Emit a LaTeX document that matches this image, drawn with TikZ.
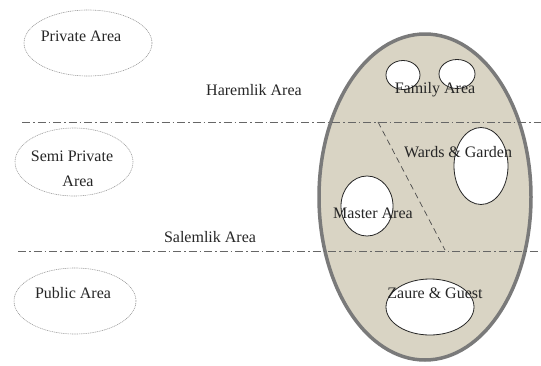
\documentclass[tikz,border=0pt]{standalone}
\usepackage{fontspec}
\setmainfont{Liberation Serif}
\usetikzlibrary{shapes.geometric,positioning}
\definecolor{sandfill}{RGB}{217,212,196}
\definecolor{rimgray}{RGB}{122,122,122}

\begin{document}
\begin{tikzpicture}[
    x=1pt, y=-1pt,
    zone/.style={ellipse, draw=gray!80, dash pattern=on 1pt off 0.8pt, line width=0.6pt, inner sep=0pt},
    room/.style={ellipse, draw=black!85, fill=white, line width=0.8pt, inner sep=0pt},
    house/.style={ellipse, draw=rimgray, fill=sandfill, line width=3.5pt, inner sep=0pt},
    divider/.style={draw=gray!80!black, line width=0.8pt, dash pattern=on 8pt off 3pt on 1.5pt off 3pt},
    split/.style={draw=gray!60!black, line width=0.7pt, dash pattern=on 6pt off 4pt},
    tag/.style={font=\fontsize{16}{19}\selectfont, text=black!85, inner sep=0pt},
]
    \useasboundingbox (0,0) rectangle (541,365);

    % zones on the left
    \node[zone, minimum width=128, minimum height=66] (private) at (88,43) {};
    \node[zone, minimum width=118, minimum height=68] (semi) at (74,162) {};
    \node[zone, minimum width=122, minimum height=66] (public) at (75,301) {};

    % the house
    \node[house, minimum width=212, minimum height=326] (plan) at (425,197) {};

    % dividing lines
    \coordinate (harem west) at (22,122);
    \coordinate (harem east) at (541,122);
    \coordinate (selam west) at (18,251);
    \coordinate (selam east) at (541,251);
    \coordinate (cut top) at (378,122);
    \coordinate (cut bottom) at (445,250);
    \draw[divider] (harem west) -- (harem east);
    \draw[divider] (selam west) -- (selam east);
    \draw[split] (cut top) -- (cut bottom);

    % rooms
    \node[room, minimum width=34, minimum height=29] (fam1) at (403,75) {};
    \node[room, minimum width=36, minimum height=29] (fam2) at (457,74) {};
    \node[room, minimum width=54, minimum height=77] (wards) at (481,166) {};
    \node[room, minimum width=52, minimum height=60] (master) at (367,206) {};
    \node[room, minimum width=88, minimum height=56] (zaure) at (430,307) {};

    % labels
    \node[tag] (t private) at (81,36) {Private Area};
    \node[tag] (t semi) at (72,156) {Semi Private};
    \node[tag, below=14pt of t semi.south, anchor=north, xshift=6pt] (t semi2) {Area};
    \node[tag] (t public) at (73,293) {Public Area};
    \node[tag] (t harem) at (254,90) {Haremlik Area};
    \node[tag] (t selam) at (210,237) {Salemlik Area};
    \node[tag] (t family) at (435,90) {Family Area};
    \node[tag] (t wards) at (458,152) {Wards \& Garden};
    \node[tag] (t master) at (373,213) {Master Area};
    \node[tag] (t zaure) at (435,293) {Zaure \& Guest};
\end{tikzpicture}
\end{document}
